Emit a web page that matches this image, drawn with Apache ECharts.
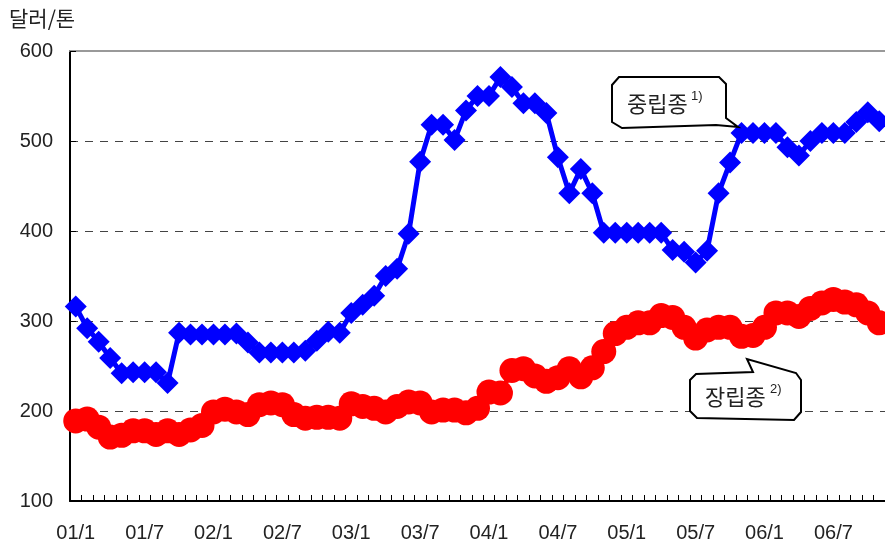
<!DOCTYPE html>
<html>
<head>
<meta charset="utf-8">
<script src="https://cdn.jsdelivr.net/npm/echarts@6/dist/echarts.min.js"></script>
<style>
  html, body { margin: 0; padding: 0; background: #fff; }
  #chart { width: 885px; height: 547px; }
</style>
</head>
<body>
<div id="chart"></div>
<script>
var years = ['01', '02', '03', '04', '05', '06'];
var months = [1, 2, 3, 4, 5, 6, 7, 8, 9, 10, 11, 12];
var monthCount = 71; // 01/1 ~ 06/11

var categories = [];
for (var i = 0; i < monthCount; i++) {
    categories.push(years[Math.floor(i / 12)] + '/' + months[i % 12]);
}

// 중립종 (달러/톤)
var mediumGrain = [
    316, 292, 277, 259, 242, 243, 243, 243, 231, 287, 285, 285,
    285, 285, 286, 276, 265, 265, 265, 265, 267, 278, 288, 287,
    309, 318, 328, 350, 358, 397, 477, 518, 518, 501, 534, 550,
    550, 571, 560, 542, 542, 531, 482, 442, 469, 442, 398, 398,
    398, 398, 398, 398, 379, 377, 365, 378, 442, 476, 509, 509,
    509, 509, 493, 484, 500, 509, 509, 509, 521, 532, 522
];

// 장립종 (달러/톤)
var longGrain = [
    189, 191, 182, 171, 173, 178, 178, 174, 178, 174, 179, 184,
    199, 202, 199, 196, 207, 209, 207, 196, 192, 193, 193, 192,
    208, 205, 203, 199, 205, 210, 209, 199, 201, 201, 198, 203,
    221, 220, 245, 247, 239, 233, 237, 247, 238, 248, 266, 286,
    293, 298, 298, 306, 304, 293, 281, 290, 293, 293, 283, 284,
    293, 309, 309, 305, 314, 320, 324, 321, 318, 309, 298
];

var yTicks = [100, 600, 100]; // min, max, interval

var chart = echarts.init(document.getElementById('chart'));

var labelFont = "'Liberation Sans', 'Noto Sans CJK KR', sans-serif";
var krFont = "'Noto Sans CJK KR', sans-serif";

var option = {
    animation: false,
    grid: {
        left: 70,
        top: 51,
        width: 822,
        height: 450
    },
    xAxis: [{
        type: 'category',
        data: categories,
        boundaryGap: true,
        axisLine: { lineStyle: { color: '#000', width: 2 } },
        axisTick: { show: true, inside: true, length: 6, interval: 0, lineStyle: { color: '#000', width: 1 } },
        axisLabel: { interval: 5, margin: 22, color: '#222', fontSize: 20, fontFamily: labelFont },
        splitLine: { show: false }
    }, {
        type: 'category',
        data: categories,
        position: 'top',
        axisLine: { lineStyle: { color: '#999', width: 2 } },
        axisTick: { show: false },
        axisLabel: { show: false }
    }],
    yAxis: {
        type: 'value',
        min: yTicks[0],
        max: yTicks[1],
        interval: yTicks[2],
        axisLine: { show: true, lineStyle: { color: '#000', width: 2 } },
        axisTick: { show: true, inside: true, length: 6, lineStyle: { color: '#000' } },
        axisLabel: { margin: 17, color: '#222', fontSize: 20, fontFamily: labelFont },
        splitLine: { show: true, lineStyle: { color: '#444', width: 1, type: [8, 7] } }
    },
    series: [{
        name: '중립종',
        type: 'line',
        data: mediumGrain,
        symbol: 'diamond',
        symbolSize: 22,
        showAllSymbol: true,
        color: '#0000ff',
        lineStyle: { width: 5, color: '#0000ff' },
        itemStyle: { color: '#0000ff' },
        z: 3
    }, {
        name: '장립종',
        type: 'line',
        data: longGrain,
        symbol: 'circle',
        symbolSize: 25,
        showAllSymbol: true,
        color: '#ff0000',
        lineStyle: { width: 5, color: '#ff0000' },
        itemStyle: { color: '#ff0000' },
        z: 4
    }],
    graphic: [{
        type: 'text',
        x: 9, y: 18,
        style: { text: '달러/톤', font: '21px ' + krFont, fill: '#222', verticalAlign: 'middle' }
    }, {
        // 중립종 말풍선
        type: 'polygon',
        shape: { points: [[612, 85], [619, 77], [719, 77], [726, 84], [726, 118], [738, 127], [716, 125], [622, 128], [612, 122]] },
        style: { fill: '#fff', stroke: '#000', lineWidth: 2 },
        z: 10
    }, {
        type: 'text',
        x: 627, y: 104,
        style: { text: '중립종', font: '22px ' + krFont, fill: '#222', verticalAlign: 'middle' },
        z: 11
    }, {
        type: 'text',
        x: 691, y: 96,
        style: { text: '1)', font: '13px ' + labelFont, fill: '#222', verticalAlign: 'middle' },
        z: 11
    }, {
        // 장립종 말풍선
        type: 'polygon',
        shape: { points: [[690, 380], [696, 374], [753, 372], [747, 359], [796, 373], [801, 380], [801, 412], [794, 420], [697, 418], [690, 411]] },
        style: { fill: '#fff', stroke: '#000', lineWidth: 2 },
        z: 10
    }, {
        type: 'text',
        x: 705, y: 397,
        style: { text: '장립종', font: '22px ' + krFont, fill: '#222', verticalAlign: 'middle' },
        z: 11
    }, {
        type: 'text',
        x: 770, y: 389,
        style: { text: '2)', font: '13px ' + labelFont, fill: '#222', verticalAlign: 'middle' },
        z: 11
    }]
};

chart.setOption(option);
</script>
</body>
</html>
